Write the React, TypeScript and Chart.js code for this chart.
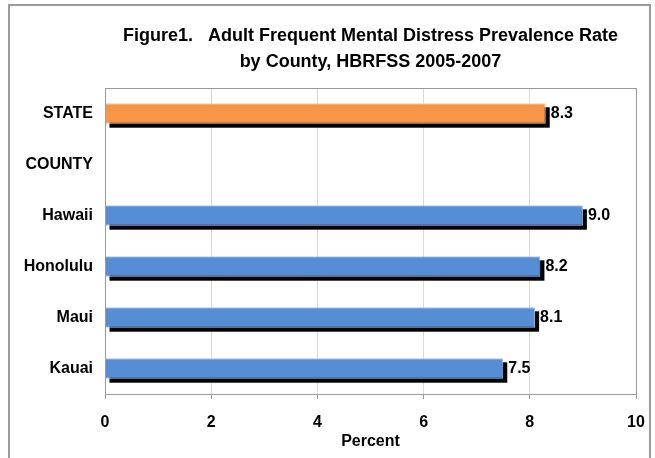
import React, { useEffect, useRef } from "react";
import { Chart, registerables } from "chart.js";

Chart.register(...registerables);

const categories = ["STATE", "COUNTY", "Hawaii", "Honolulu", "Maui", "Kauai"];
const values: (number | null)[] = [8.3, null, 9.0, 8.2, 8.1, 7.5];
const valueLabels = ["8.3", "", "9.0", "8.2", "8.1", "7.5"];
const titleLines = [
  "Figure1.   Adult Frequent Mental Distress Prevalence Rate",
  "by County, HBRFSS 2005-2007",
];
const xTitle = "Percent";

const FONT = "'Liberation Sans', Arial, sans-serif";

const barColors = categories.map((c) => (c === "STATE" ? "#F79646" : "#558ED5"));
const barBorders = categories.map((c) => (c === "STATE" ? "#FBC9A3" : "#A9C6EA"));

const shadowPlugin = {
  id: "shadowBars",
  beforeDatasetsDraw(chart: any) {
    const ctx = chart.ctx;
    const meta = chart.getDatasetMeta(0);
    ctx.save();
    ctx.fillStyle = "#000";
    meta.data.forEach((bar: any, i: number) => {
      if (values[i] == null) return;
      const p = bar.getProps(["x", "y", "base", "height"], true);
      ctx.fillRect(p.base + 4, p.y - p.height / 2 + 4, p.x - p.base, p.height);
    });
    ctx.restore();
  },
  afterDatasetsDraw(chart: any) {
    const ctx = chart.ctx;
    const meta = chart.getDatasetMeta(0);
    ctx.save();
    ctx.fillStyle = "#000";
    ctx.font = `bold 16px ${FONT}`;
    ctx.textBaseline = "middle";
    ctx.textAlign = "left";
    meta.data.forEach((bar: any, i: number) => {
      if (values[i] == null) return;
      const p = bar.getProps(["x", "y"], true);
      ctx.fillText(valueLabels[i], p.x + 5, p.y);
    });
    ctx.restore();
  },
  afterDraw(chart: any) {
    const ctx = chart.ctx;
    const a = chart.chartArea;
    ctx.save();
    ctx.strokeStyle = "#9A9A9A";
    ctx.lineWidth = 1;
    ctx.strokeRect(Math.round(a.left) + 0.5, Math.round(a.top) + 0.5, Math.round(a.right - a.left), Math.round(a.bottom - a.top));
    ctx.restore();
  },
};

export default function App() {
  const ref = useRef<HTMLCanvasElement>(null);
  useEffect(() => {
    if (!ref.current) return;
    const chart = new Chart(ref.current, {
      type: "bar",
      data: {
        labels: categories,
        datasets: [
          {
            data: values,
            backgroundColor: barColors,
            borderColor: barBorders,
            borderWidth: 1,
            barPercentage: 0.4,
            categoryPercentage: 1,
          },
        ],
      },
      options: {
        indexAxis: "y",
        animation: false,
        responsive: false,
        layout: { padding: { left: 0, right: 19, top: 0, bottom: 0 } },
        plugins: {
          legend: { display: false },
          tooltip: { enabled: false },
          title: {
            display: true,
            text: titleLines,
            fullSize: false,
            color: "#000",
            font: { family: FONT, size: 18, weight: "bold", lineHeight: 26 / 18 },
            padding: { top: 23, bottom: 13 },
          },
        },
        scales: {
          x: {
            min: 0,
            max: 10,
            ticks: {
              stepSize: 2,
              color: "#000",
              font: { family: FONT, size: 16, weight: "bold" },
              padding: 14,
            },
            grid: {
              color: (c: any) => (c.tick && (c.tick.value === 0 || c.tick.value === 10) ? "#9A9A9A" : "#D9D9D9"),
              tickColor: "#9A9A9A",
              tickLength: 5,
              lineWidth: 1,
            },
            border: { display: true, color: "#9A9A9A" },
            title: {
              display: true,
              text: xTitle,
              color: "#000",
              font: { family: FONT, size: 16, weight: "bold" },
              padding: { top: 0, bottom: 7 },
            },
            afterFit: (s: any) => {
              s.height = 64;
              s.paddingRight = 0;
              s.paddingLeft = 0;
            },
          },
          y: {
            ticks: {
              color: "#000",
              font: { family: FONT, size: 16, weight: "bold" },
              padding: 12,
            },
            grid: { display: false, drawTicks: false },
            border: { display: true, color: "#9A9A9A" },
            afterFit: (s: any) => {
              s.width = 105;
            },
          },
        },
      },
      plugins: [shadowPlugin],
    });
    return () => chart.destroy();
  }, []);
  return (
    <div style={{ position: "absolute", left: 0, top: 0, width: 655, height: 458, background: "#fff", overflow: "hidden" }}>
      <canvas ref={ref} width={655} height={458} style={{ position: "absolute", left: 0, top: 0 }} />
      <div
        style={{
          position: "absolute",
          left: 8,
          top: 4,
          width: 643,
          height: 470,
          border: "2px solid #9C9C9C",
          boxSizing: "border-box",
          pointerEvents: "none",
        }}
      />
    </div>
  );
}
